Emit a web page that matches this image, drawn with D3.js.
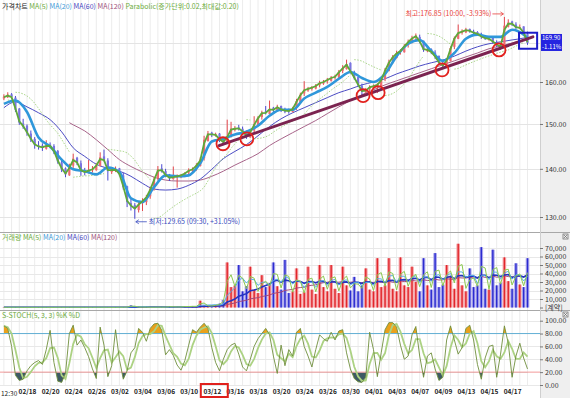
<!DOCTYPE html>
<html>
<head>
<meta charset="utf-8">
<script src="https://cdn.jsdelivr.net/npm/d3@7"></script>
<style>
  body { margin: 0; background: #fff; }
  text { font-family: "Noto Sans CJK KR", "Noto Sans", sans-serif; }
</style>
</head>
<body>
<div id="chart"></div>
<script>
// ---- data (one bar = 1/3 trading day) ----
var dateLabels = ["02/18","02/20","02/24","02/26","03/02","03/04","03/06","03/10","03/12","03/16","03/18",
                  "03/20","03/24","03/26","03/30","04/01","04/03","04/07","04/09","04/13","04/15","04/17"];
var dateBars = [6,12,18,24,30,36,42,48,54,60,66,72,78,84,90,96,102,108,114,120,126,132];

var opens = [156.0,156.3,157.0,156.2,153.6,150.1,149.6,147.8,146.6,145.1,
  145.1,144.4,145.3,145.0,143.9,141.4,140.1,138.6,140.7,142.4,
  141.2,139.7,139.1,139.9,139.7,140.6,142.7,141.8,139.3,139.9,
  140.1,138.6,136.3,132.8,132.4,131.4,132.8,133.0,134.2,135.5,
  138.0,140.1,139.5,138.8,137.8,138.4,138.2,138.8,139.2,139.5,
  140.1,140.6,142.3,146.1,148.0,147.3,147.8,146.2,145.6,147.4,
  148.6,149.2,148.9,148.4,146.9,148.5,149.8,151.6,152.9,152.3,
  153.8,153.1,154.2,153.1,153.3,152.8,153.8,155.1,157.2,157.9,
  158.5,158.4,159.2,159.6,160.2,160.3,161.2,161.1,162.8,163.2,
  164.8,162.3,161.2,159.0,157.4,158.2,158.6,159.3,159.0,160.8,
  162.7,165.3,166.0,167.6,167.5,169.4,170.0,171.5,171.5,170.5,
  167.8,168.3,167.4,166.6,164.5,164.3,165.2,168.9,171.0,172.8,
  172.7,173.6,172.9,172.8,172.0,171.7,170.9,171.2,170.0,169.6,
  168.7,174.2,175.6,174.8,173.8,174.3,172.3];
var highs = [157.0,157.5,157.3,156.6,153.7,151.2,149.9,148.5,147.0,146.1,
  145.6,146.3,145.8,145.4,144.1,142.0,140.3,141.1,143.3,142.6,
  141.8,140.2,141.9,140.6,141.2,143.6,144.2,142.3,140.4,140.5,
  140.2,139.1,136.4,133.8,132.8,133.0,133.8,134.5,136.2,138.3,
  140.6,141.0,140.0,138.9,140.5,138.8,138.9,139.3,140.1,140.3,
  141.2,142.5,147.3,148.4,148.2,148.0,147.9,146.7,151.0,150.5,
  149.5,149.8,149.4,148.5,148.6,151.8,151.8,153.1,154.2,155.5,
  154.0,154.5,154.3,153.8,153.6,154.0,155.9,157.4,160.2,158.8,
  159.0,159.5,160.3,160.5,161.0,161.5,161.8,163.0,164.2,165.6,
  164.9,162.8,161.3,159.6,158.5,159.2,159.4,159.7,161.0,163.5,
  165.6,166.8,167.9,168.3,169.6,170.8,171.8,172.4,172.1,170.5,
  168.9,168.5,168.0,166.6,165.3,165.9,169.0,171.6,174.8,173.5,
  173.9,173.7,173.4,173.0,172.6,171.9,171.6,171.3,170.6,169.9,
  176.85,176.2,175.8,175.4,174.8,174.3,172.9];
var lows = [155.6,156.1,155.9,152.8,149.8,148.9,147.3,145.9,144.4,144.2,
  143.9,144.2,144.5,143.2,141.1,139.3,138.2,138.5,140.2,140.8,
  138.5,138.6,139.0,139.2,139.6,140.5,141.6,137.5,138.9,139.3,
  138.4,135.6,132.0,131.3,129.65,130.9,131.2,132.4,133.7,135.4,
  137.5,139.2,138.2,137.4,137.7,136.0,138.0,138.2,138.7,139.3,
  139.6,140.5,141.8,146.0,147.0,147.1,145.9,145.2,145.5,146.9,
  148.3,148.5,147.6,146.6,146.9,148.0,149.7,151.0,152.2,152.3,
  152.7,152.9,152.8,152.5,152.4,152.7,153.3,155.1,156.6,157.6,
  157.9,158.2,158.7,159.3,159.6,160.1,160.6,161.0,162.2,163.1,
  162.1,160.6,158.9,156.7,157.2,157.5,158.2,157.3,159.0,160.2,
  162.7,164.6,165.9,166.9,167.4,168.7,169.8,170.6,169.8,167.6,
  167.5,167.0,165.8,164.3,163.2,163.7,165.2,168.3,170.9,172.1,
  172.5,172.6,172.1,171.8,171.0,170.7,170.5,169.7,168.8,168.1,
  168.6,174.0,174.4,173.5,173.6,172.1,169.4];
var closes = [156.4,156.9,156.4,153.3,150.3,149.4,148.0,146.4,145.3,144.9,
  144.6,145.1,145.1,143.8,141.6,139.9,138.8,140.5,142.2,141.4,
  139.5,139.3,139.7,139.9,140.8,142.5,142.0,139.5,139.7,139.9,
  138.8,136.1,133.0,132.2,131.6,132.6,133.2,134.0,135.7,137.8,
  139.9,139.7,138.6,138.0,138.2,138.4,138.6,139.0,139.7,139.9,
  140.8,142.0,146.4,147.8,147.6,147.6,146.4,145.8,147.1,148.9,
  148.9,149.1,148.2,147.1,148.2,150.0,151.4,152.6,152.6,153.5,
  153.3,154.0,153.3,153.0,153.0,153.5,155.4,156.9,158.1,158.3,
  158.6,159.0,159.8,160.0,160.5,161.0,161.3,162.5,163.5,164.5,
  162.5,161.0,159.3,157.6,157.9,158.8,159.0,159.3,160.5,163.0,
  165.0,166.3,167.3,167.8,169.1,170.2,171.2,171.8,170.2,168.1,
  168.1,167.6,166.3,164.8,164.0,165.5,168.6,171.2,172.6,172.9,
  173.4,173.1,172.6,172.3,171.5,171.2,171.0,170.2,169.4,168.9,
  174.5,175.3,175.1,174.0,174.0,172.6,169.9];
var ma5 = [156.3,156.7,156.3,153.6,150.6,149.5,148.1,146.6,145.4,144.9,
  144.7,145.0,145.0,143.9,141.8,140.1,139.0,140.2,141.9,141.4,
  139.7,139.3,139.6,139.9,140.7,142.1,141.9,139.7,139.7,139.8,
  138.9,136.3,133.3,132.3,131.7,132.5,133.2,134.0,135.6,137.6,
  139.6,139.7,138.7,138.1,138.2,138.4,138.6,139.0,139.6,139.9,
  140.7,141.8,145.6,147.6,147.6,147.5,146.5,145.9,147.0,148.7,
  148.9,149.0,148.3,147.3,148.1,149.8,151.3,152.5,152.6,153.4,
  153.3,153.9,153.4,153.1,153.0,153.5,155.2,156.8,158.0,158.3,
  158.6,159.0,159.7,160.0,160.5,161.0,161.3,162.4,163.4,164.3,
  162.7,161.1,159.4,157.8,157.9,158.7,159.0,159.3,160.4,162.8,
  164.8,166.2,167.2,167.8,169.0,170.1,171.1,171.7,170.3,168.3,
  168.1,167.6,166.4,164.9,164.1,165.4,168.3,171.0,172.5,172.9,
  173.3,173.1,172.6,172.3,171.6,171.2,171.0,170.3,169.5,169.0,
  173.4,175.0,175.0,174.1,173.9,172.7,170.1];
// moving averages, one point per trading day
var ma20 = [154.7,155.5,152.8,146.9,144.9,142.0,139.9,139.5,138.8,140.3,
  139.3,133.8,133.0,136.1,138.6,138.4,138.6,141.2,146.0,146.6,
  147.6,148.2,149.6,151.9,153.3,153.3,156.0,157.4,158.8,160.8,
  162.5,161.0,160.0,162.0,166.5,169.7,170.7,167.8,165.3,167.3,
  171.0,172.1,171.5,171.5,173.4,172.1,171.2];
var ma60 = [153.8,155.2,154.0,152.6,151.0,148.2,144.6,142.7,141.0,140.1,
  139.5,138.4,136.9,135.7,135.5,135.7,136.5,137.8,139.9,142.2,
  143.8,145.3,147.3,149.4,151.2,152.6,153.8,155.0,156.2,157.4,
  158.3,159.3,160.0,160.8,162.0,163.0,164.0,164.8,165.5,166.5,
  167.8,168.9,169.7,170.2,170.7,171.2,171.5];
var ma120 = [150.3,149.8,148.4,146.4,144.2,142.0,140.5,139.3,138.2,137.6,
  137.4,137.4,137.6,138.4,139.5,140.8,142.0,143.3,145.1,146.6,
  148.0,149.4,150.8,152.4,154.0,155.5,156.9,158.1,159.3,160.3,
  161.3,162.3,163.3,164.3,165.3,166.3,167.3,168.4,169.1,169.9,
  170.7,171.0];
var maBars = d3.range(0, 136, 3).concat([136]);
var ma120Bars = [17].concat(d3.range(18, 136, 3), [136]);

var volume = [300,250,400,350,300,200,250,300,200,350,
  300,250,200,300,350,250,300,400,250,300,
  300,200,350,250,300,400,300,250,200,300,
  350,400,500,2500,600,400,500,300,400,350,
  500,400,600,1200,500,700,600,1500,800,1800,
  900,8000,2500,1500,2000,3000,4500,9000,53000,24000,
  26000,50000,19000,25000,48000,21000,17000,38000,24000,27000,
  53000,25000,21000,56000,17000,19000,46000,16000,18000,48000,
  21000,16000,50000,24000,19000,50000,22000,17000,48000,26000,
  20000,36000,19000,26000,46000,21000,19000,58000,24000,26000,
  58000,22000,19000,59000,26000,24000,48000,30000,19000,58000,
  26000,21000,64000,24000,27000,50000,36000,22000,75000,26000,
  19000,46000,24000,26000,71000,22000,21000,68000,26000,29000,
  59000,31000,22000,52000,27000,24000,58000];

var stochK = [92,88,60,15,7,9,22,30,35,38,
  32,55,85,35,6,4,18,80,93,62,
  70,58,44,25,10,90,62,13,30,86,
  40,9,22,50,58,88,82,68,88,95,
  96,85,47,55,46,31,23,38,62,86,
  82,90,96,88,58,35,22,40,55,62,
  65,48,28,22,40,60,72,80,88,78,
  45,18,62,30,55,45,82,88,60,45,
  28,55,78,72,68,82,70,84,86,50,
  25,10,5,4,12,82,55,13,50,86,
  97,97,90,62,40,45,78,91,45,12,
  45,50,25,7,12,70,92,70,48,58,
  88,93,70,32,9,42,60,62,12,48,
  92,65,12,45,65,42,25];

var lastPrice = 169.90, lastChange = "-1.11%";
var highNote = {bar: 130, price: 176.85, text: "최고:176.85 (10:00, -3.93%)"};
var lowNote = {bar: 34, price: 129.65, text: "최저:129.65 (09:30, +31.05%)"};
var trendLine = [[55.9, 145.1], [137.4, 171.5]];
var touchPoints = [[56.9,145.5],[63.1,146.6],[93.3,156.7],[97.2,157.4],[113.8,163.0],[128.6,168.1]];
var focusBox = {bars: [133.8, 138.5], prices: [172.6, 168.4]};

// ---- layout ----
var svgWidth = 570, svgHeight = 398;
var plotRight = 540;
var price = {top: 0, bottom: 232};
var vol = {top: 232, bottom: 310};
var stoch = {top: 310, bottom: 386};

var svg = d3.select("#chart").append("svg")
  .attr("width", svgWidth).attr("height", svgHeight);

svg.append("rect").attr("width", svgWidth).attr("height", svgHeight).attr("fill", "#fff");
svg.append("rect").attr("x", plotRight).attr("width", svgWidth - plotRight)
  .attr("height", svgHeight).attr("fill", "#efefef");

var x = d3.scaleLinear().domain([0, 136]).range([3.9, 527.5]);
var y = d3.scaleLog().domain([130, 170]).range([217, 42.6]);
var yVol = d3.scaleLinear().domain([0, 70000]).range([307.5, 248]);
var yStoch = d3.scaleLinear().domain([0, 100]).range([385, 320.7]);

function clip(id, top, bottom) {
  svg.append("clipPath").attr("id", id).append("rect")
    .attr("x", 0).attr("y", top).attr("width", plotRight).attr("height", bottom - top);
  return svg.append("g").attr("clip-path", "url(#" + id + ")");
}

// vertical grid
svg.append("g").selectAll("line").data(d3.range(0, 137, 2)).enter().append("line")
  .attr("x1", d => x(d)).attr("x2", d => x(d))
  .attr("y1", 0).attr("y2", stoch.bottom)
  .attr("stroke", "#ececec").attr("stroke-width", 1);

// horizontal grids
function hgrid(vals, scale, color) {
  svg.append("g").selectAll("line").data(vals).enter().append("line")
    .attr("x1", 0).attr("x2", plotRight)
    .attr("y1", d => Math.round(scale(d)) + 0.5).attr("y2", d => Math.round(scale(d)) + 0.5)
    .attr("stroke", color || "#e4e4e4");
}
hgrid([130, 140, 150, 160, 170], y);
hgrid(d3.range(10000, 80000, 10000), yVol, "#e8e8e8");
hgrid([0, 40, 60, 100], yStoch, "#e8e8e8");

// panel frames
[vol.top, stoch.top].forEach(function(v) {
  svg.append("line").attr("x1", 0).attr("x2", svgWidth).attr("y1", v + 0.5).attr("y2", v + 0.5)
    .attr("stroke", "#a8a8a8");
});
svg.append("line").attr("x1", plotRight + 0.5).attr("x2", plotRight + 0.5)
  .attr("y1", 0).attr("y2", svgHeight).attr("stroke", "#cfcfcf");

// ---- price panel ----
var pg = clip("clipPrice", price.top, price.bottom);

function maLine(bars, vals, color, width) {
  var line = d3.line().x((d, i) => x(bars[i])).y(d => y(d)).curve(d3.curveMonotoneX);
  pg.append("path").datum(vals).attr("d", line).attr("fill", "none")
    .attr("stroke", color).attr("stroke-width", width);
}
maLine(ma120Bars, ma120, "#a8648a", 1);
maLine(maBars, ma60, "#4b4bc4", 1);

// candles
var cg = pg.append("g").selectAll("g").data(closes).enter().append("g");
cg.append("line")
  .attr("x1", (d, i) => x(i)).attr("x2", (d, i) => x(i))
  .attr("y1", (d, i) => y(highs[i])).attr("y2", (d, i) => y(lows[i]))
  .attr("stroke", (d, i) => d >= opens[i] ? "#e4464c" : "#4a48d2").attr("stroke-width", 1);
cg.append("rect")
  .attr("x", (d, i) => x(i) - 1.1).attr("width", 2.2)
  .attr("y", (d, i) => y(Math.max(d, opens[i])))
  .attr("height", (d, i) => Math.max(1, y(Math.min(d, opens[i])) - y(Math.max(d, opens[i]))))
  .attr("fill", (d, i) => d >= opens[i] ? "#ef6a70" : "#7a74e0");

// parabolic SAR
function psar(h, l, step, maxStep) {
  var out = [], up = false, af = step, ep = l[0], sar = h[0];
  out.push({i: 0, v: sar, up: up});
  for (var i = 1; i < h.length; i++) {
    sar = sar + af * (ep - sar);
    if (up) {
      sar = Math.min(sar, l[i - 1], l[Math.max(0, i - 2)]);
      if (l[i] < sar) { up = false; sar = ep; ep = l[i]; af = step; }
      else if (h[i] > ep) { ep = h[i]; af = Math.min(af + step, maxStep); }
    } else {
      sar = Math.max(sar, h[i - 1], h[Math.max(0, i - 2)]);
      if (h[i] > sar) { up = true; sar = ep; ep = h[i]; af = step; }
      else if (l[i] < ep) { ep = l[i]; af = Math.min(af + step, maxStep); }
    }
    out.push({i: i, v: sar, up: up});
  }
  return out;
}
var sarPts = psar(highs, lows, 0.02, 0.2);
var runs = [], cur = [];
sarPts.forEach(function(p, k) {
  if (k > 0 && p.up !== sarPts[k - 1].up) { runs.push(cur); cur = []; }
  cur.push(p);
});
runs.push(cur);
var sarLine = d3.line().x(d => x(d.i)).y(d => y(d.v));
pg.append("g").selectAll("path").data(runs).enter().append("path")
  .attr("d", sarLine).attr("fill", "none")
  .attr("stroke", "#9fd07a").attr("stroke-width", 0.9).attr("stroke-dasharray", "1.5,1.5");

maLine(maBars, ma20, "#2f97da", 2.6);
pg.append("path").datum(ma5)
  .attr("d", d3.line().x((d, i) => x(i)).y(d => y(d)))
  .attr("fill", "none").attr("stroke", "#5fa83a").attr("stroke-width", 1.8);

// trend line and touch circles
svg.append("line")
  .attr("x1", x(trendLine[0][0])).attr("y1", y(trendLine[0][1]))
  .attr("x2", x(trendLine[1][0])).attr("y2", y(trendLine[1][1]))
  .attr("stroke", "#7b2350").attr("stroke-width", 3).attr("stroke-linecap", "round");
svg.append("g").selectAll("circle").data(touchPoints).enter().append("circle")
  .attr("cx", d => x(d[0])).attr("cy", d => y(d[1])).attr("r", 6.5)
  .attr("fill", "none").attr("stroke", "#e2221e").attr("stroke-width", 1.8);

svg.append("rect")
  .attr("x", x(focusBox.bars[0])).attr("y", y(focusBox.prices[0]))
  .attr("width", x(focusBox.bars[1]) - x(focusBox.bars[0]))
  .attr("height", y(focusBox.prices[1]) - y(focusBox.prices[0]))
  .attr("fill", "none").attr("stroke", "#1c1cc8").attr("stroke-width", 2);

// high / low notes
var hx = x(highNote.bar), hy = y(highNote.price) - 3;
svg.append("text").attr("x", hx - 13).attr("y", hy + 2.5).attr("text-anchor", "end")
  .attr("font-size", 7).attr("fill", "#e8403c").text(highNote.text);
svg.append("path").attr("d", `M${hx - 12},${hy} H${hx - 1} M${hx - 4},${hy - 2} L${hx - 1},${hy} L${hx - 4},${hy + 2}`)
  .attr("fill", "none").attr("stroke", "#e8403c").attr("stroke-width", 0.8);
var lx = x(lowNote.bar), ly = y(lowNote.price) + 3;
svg.append("path").attr("d", `M${lx + 1},${ly} H${lx + 12} M${lx + 4},${ly - 2} L${lx + 1},${ly} L${lx + 4},${ly + 2}`)
  .attr("fill", "none").attr("stroke", "#3a4cc0").attr("stroke-width", 0.8);
svg.append("text").attr("x", lx + 14).attr("y", ly + 2.5)
  .attr("font-size", 7).attr("fill", "#3a4cc0").text(lowNote.text);

// ---- volume panel ----
var vg = clip("clipVol", vol.top, vol.bottom);
var isUp = closes.map((c, i) => c >= opens[i]);
vg.append("g").selectAll("rect").data(volume).enter().append("rect")
  .attr("x", (d, i) => x(i) - 1.8).attr("width", 3.6)
  .attr("y", d => yVol(d)).attr("height", d => yVol(0) - yVol(d))
  .attr("fill", (d, i) => isUp[i] ? "#f4a3a6" : "#aaa6ec");
vg.append("g").selectAll("rect").data(volume).enter().append("rect")
  .attr("x", (d, i) => x(i) - 0.7).attr("width", 1.4)
  .attr("y", d => yVol(d)).attr("height", d => yVol(0) - yVol(d))
  .attr("fill", (d, i) => isUp[i] ? "#e2262c" : "#2b2bd0");

function sma(arr, n) {
  return arr.map((v, i) => d3.mean(arr.slice(Math.max(0, i - n + 1), i + 1)));
}
var volLine = d3.line().x((d, i) => x(i)).y(d => yVol(d));
[[28, "#a64a7a", 1], [14, "#2434c0", 1.6], [5, "#55aee6", 1], [2, "#8cc950", 1]].forEach(function(m) {
  vg.append("path").datum(sma(volume, m[0])).attr("d", volLine)
    .attr("fill", "none").attr("stroke", m[1]).attr("stroke-width", m[2]);
});

// ---- stochastic panel ----
var sg = clip("clipStoch", stoch.top, stoch.bottom);
var stochD = sma(stochK, 3);
svg.append("clipPath").attr("id", "clipOver").append("rect")
  .attr("x", 0).attr("y", stoch.top).attr("width", plotRight).attr("height", yStoch(80) - stoch.top);
svg.append("clipPath").attr("id", "clipUnder").append("rect")
  .attr("x", 0).attr("y", yStoch(20)).attr("width", plotRight).attr("height", stoch.bottom - yStoch(20));
sg.append("path").datum(stochK).attr("clip-path", "url(#clipOver)")
  .attr("d", d3.area().x((d, i) => x(i)).y0(yStoch(80)).y1(d => yStoch(d)))
  .attr("fill", "#e9a11c");
sg.append("path").datum(stochK).attr("clip-path", "url(#clipUnder)")
  .attr("d", d3.area().x((d, i) => x(i)).y0(yStoch(20)).y1(d => yStoch(d)))
  .attr("fill", "#3e5a64");
sg.append("line").attr("x1", 0).attr("x2", plotRight)
  .attr("y1", yStoch(80)).attr("y2", yStoch(80)).attr("stroke", "#62b0d6");
sg.append("line").attr("x1", 0).attr("x2", plotRight)
  .attr("y1", yStoch(20)).attr("y2", yStoch(20)).attr("stroke", "#f39a9a");
var stLine = d3.line().x((d, i) => x(i)).y(d => yStoch(d));
sg.append("path").datum(stochD).attr("d", stLine).attr("fill", "none")
  .attr("stroke", "#acd283").attr("stroke-width", 1.8);
sg.append("path").datum(stochK).attr("d", stLine).attr("fill", "none")
  .attr("stroke", "#6f8f3c").attr("stroke-width", 0.9);

// ---- right axes ----
function rightAxis(scale, vals, fmt) {
  var g = svg.append("g").attr("transform", `translate(${plotRight},0)`)
    .call(d3.axisRight(scale).tickValues(vals).tickFormat(fmt).tickSize(3).tickPadding(2));
  g.select(".domain").remove();
  g.selectAll("line").attr("stroke", "#777");
  g.selectAll("text").attr("font-size", 7).attr("fill", "#333")
    .attr("font-family", "Roboto, 'Noto Sans', sans-serif");
  return g;
}
// 170.00 sits under the last-price box, so only its tick is kept
rightAxis(y, [130, 140, 150, 160], d3.format(".2f"));
rightAxis(yVol, d3.range(0, 80000, 10000), d => d === 0 ? "[계약]" : d3.format(",")(d));
rightAxis(yStoch, [0, 20, 40, 60, 80, 100], d3.format(".2f"));

// last price box
var ly0 = y(lastPrice);
svg.append("rect").attr("x", plotRight + 1).attr("y", ly0 - 9).attr("width", 21).attr("height", 17)
  .attr("fill", "#2424e0");
svg.append("text").attr("x", plotRight + 2).attr("y", ly0 - 2.5).attr("font-size", 6)
  .attr("fill", "#fff").attr("font-family", "Roboto, sans-serif").text(lastPrice.toFixed(2));
svg.append("text").attr("x", plotRight + 2).attr("y", ly0 + 6).attr("font-size", 6)
  .attr("fill", "#fff").attr("font-family", "Roboto, sans-serif").text(lastChange);

// close icons
[vol.top + 2, stoch.top + 2].forEach(function(t) {
  var g = svg.append("g").attr("transform", `translate(563,${t})`);
  g.append("rect").attr("width", 5).attr("height", 5).attr("fill", "none").attr("stroke", "#666").attr("stroke-width", 0.7);
  g.append("path").attr("d", "M1,1 L4,4 M4,1 L1,4").attr("stroke", "#666").attr("stroke-width", 0.7);
});

// ---- bottom axis ----
var xa = svg.append("g").attr("transform", `translate(0,${stoch.bottom})`)
  .call(d3.axisBottom(x).tickValues(dateBars).tickFormat((d, i) => dateLabels[i]).tickSize(0).tickPadding(3));
xa.select(".domain").remove();
xa.selectAll("text").attr("font-size", 6.5).attr("font-weight", "bold").attr("fill", "#222")
  .attr("font-family", "Roboto, 'Noto Sans', sans-serif");
svg.append("text").attr("x", 1).attr("y", stoch.bottom + 9.5).attr("font-size", 6.5)
  .attr("fill", "#222").attr("font-family", "Roboto, sans-serif").text("12:30");
svg.append("rect").attr("x", x(54) - 11).attr("y", 384).attr("width", 27).attr("height", 13)
  .attr("fill", "none").attr("stroke", "#e0201c").attr("stroke-width", 2);

// ---- legends ----
function legend(yPos, parts) {
  var t = svg.append("text").attr("x", 2).attr("y", yPos).attr("font-size", 7);
  parts.forEach(p => t.append("tspan").attr("fill", p[1]).text(p[0]));
}
legend(9, [["가격차트 ", "#222"], ["MA(5) ", "#6cab3c"], ["MA(20) ", "#3c9ad8"], ["MA(60) ", "#4646c0"],
  ["MA(120) ", "#a0507a"], ["Parabolic(증가단위:0.02,최대값:0.20)", "#6cab3c"]]);
legend(vol.top + 8, [["거래량 ", "#6cab3c"], ["MA(5) ", "#6cab3c"], ["MA(20) ", "#3c9ad8"],
  ["MA(60) ", "#4646c0"], ["MA(120)", "#a0507a"]]);
legend(stoch.top + 8, [["S-STOCH(5, 3, 3) %K %D", "#6cab3c"]]);
</script>
</body>
</html>
